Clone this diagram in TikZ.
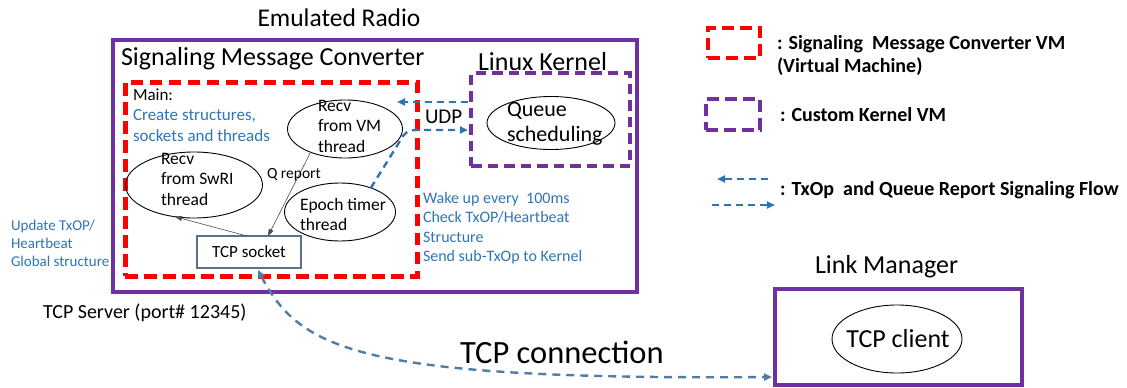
\documentclass[tikz,border=0pt]{standalone}
\usepackage{fontspec}
\setmainfont{Carlito}
\usetikzlibrary{arrows.meta,shapes.geometric,calc}
\definecolor{vmpurple}{RGB}{112,48,160}
\definecolor{flowblue}{RGB}{46,117,182}
\definecolor{linkblue}{RGB}{80,125,165}
\definecolor{sockedge}{RGB}{90,115,140}
\newcommand{\fsz}[2]{\fontsize{#1}{#2}\selectfont}

\begin{document}
\begin{tikzpicture}[x=1pt,y=-1pt,
  every node/.style={inner sep=0pt,outer sep=0pt},
  framebox/.style={draw=vmpurple,line width=4.5pt,rectangle},
  smcbox/.style={draw=red,line width=5pt,dash pattern=on 12.5pt off 6.5pt,rectangle},
  kernbox/.style={draw=vmpurple,line width=4.5pt,dash pattern=on 10.5pt off 6pt,rectangle},
  thread/.style={draw,ellipse,line width=0.9pt},
  sockbox/.style={draw=sockedge,line width=1.2pt,rectangle,font=\fsz{17}{20}},
  head/.style={font=\fsz{26}{30},anchor=base west},
  lbl/.style={font=\fsz{17.5}{20.5},anchor=base west},
  note/.style={text=flowblue,anchor=base west},
  legend/.style={font=\bfseries\fsz{20}{23},anchor=base west},
  flow/.style={draw=flowblue,line width=2.4pt,dash pattern=on 7pt off 5pt,-{Triangle[length=8pt,width=7pt]}},
  link/.style={draw=linkblue,line width=2.4pt,dash pattern=on 8pt off 6pt,{Triangle[length=8pt,width=7pt]}-{Triangle[length=8pt,width=7pt]}},
  report/.style={draw=black!70,line width=0.6pt,-{Triangle[length=7pt,width=5pt]}},
]
\useasboundingbox (0,0) rectangle (1127,388);

% ---------------- Emulated Radio ----------------
\node[font=\fsz{25.5}{30},anchor=base] (ertitle) at (339,26) {Emulated Radio};
\node[framebox,minimum width=524pt,minimum height=252pt] (er) at (375,166) {};
\node[head] (smctitle) at (121,65) {Signaling Message Converter};
\node[smcbox,minimum width=292pt,minimum height=194pt] (smc) at (271,179) {};
\node[head] (kerntitle) at (478,70) {Linux Kernel};
\node[kernbox,minimum width=159pt,minimum height=93pt] (kern) at (550.5,119.5) {};

% main thread description
\node[lbl,font=\fsz{17}{20}] (main1) at (133,100) {Main:};
\node[lbl,font=\fsz{17}{20},text=flowblue] (main2) at (133,120.5) {Create structures,};
\node[lbl,font=\fsz{17}{20},text=flowblue] (main3) at (133,141) {sockets and threads};

% threads
\node[thread,minimum width=115pt,minimum height=58pt] (vm) at (345,129) {};
\node[lbl] (vm1) at (318,111) {Recv};
\node[lbl] (vm2) at (318,131.5) {from VM};
\node[lbl] (vm3) at (318,152) {thread};

\node[thread,minimum width=137pt,minimum height=66pt] (swri) at (194,185) {};
\node[lbl] (sw1) at (161,164) {Recv};
\node[lbl] (sw2) at (161,184.5) {from SwRI};
\node[lbl] (sw3) at (161,205) {thread};

\node[thread,minimum width=111pt,minimum height=58pt] (ep) at (340,212) {};
\node[lbl] (ep1) at (300,210) {Epoch timer};
\node[lbl] (ep2) at (300,230) {thread};

\node[sockbox,minimum width=104pt,minimum height=32pt] (sock) at (249,252) {TCP socket};

\node[thread,minimum width=128pt,minimum height=53pt] (queue) at (551,123) {};
\node[lbl,font=\fsz{22}{26}] (q1) at (507,116) {Queue};
\node[lbl,font=\fsz{22}{26}] (q2) at (507,141) {scheduling};

% notes
\node[note,font=\fsz{16}{19.5}] (wk1) at (423,203) {Wake up every \ 100ms};
\node[note,font=\fsz{16}{19.5}] (wk2) at (423,222.5) {Check TxOP/Heartbeat};
\node[note,font=\fsz{16}{19.5}] (wk3) at (423,242) {Structure};
\node[note,font=\fsz{16}{19.5}] (wk4) at (423,261.5) {Send sub-TxOp to Kernel};

\node[note,font=\fsz{15}{18}] (up1) at (11,230) {Update TxOP/};
\node[note,font=\fsz{15}{18}] (up2) at (11,248) {Heartbeat};
\node[note,font=\fsz{15}{18}] (up3) at (11,266) {Global structure};

\node[font=\fsz{20}{24},anchor=base west] (server) at (43,318) {TCP Server (port\# 12345)};

% internal connectors
\draw[report] ([xshift=-2pt]sock.north) -- (swri.-121);
\draw[report] (vm.-146) -- ([xshift=19pt]sock.north);
\node[font=\fsz{15.5}{18},anchor=base west] (qrep) at (267,178) {Q report};

% UDP signalling between converter and kernel
\coordinate (udpin) at (397,102);
\coordinate (udpbend) at (416,130);
\draw[flow] ($(kern.west |- udpin)+(-3,0)$) -- (udpin);
\draw[flow] (ep.38) -- (400,141) .. controls (404,133) and (408,130) .. (udpbend) -- ($(kern.west |- udpbend)+(-3,0)$);
\node[font=\fsz{21}{24},anchor=base west] (udp) at (425,123) {UDP};

% ---------------- Link Manager ----------------
\node[head] (lmtitle) at (815,273) {Link Manager};
\node[framebox,minimum width=247pt,minimum height=96pt] (lm) at (898.5,337) {};
\node[thread,minimum width=130pt,minimum height=68pt] (client) at (897,339) {};
\node[font=\fsz{26}{30},anchor=base] (clienttxt) at (898,347) {TCP client};

\draw[link] ([xshift=9pt,yshift=-2pt]sock.south) .. controls (300,350) and (360,380) .. ([shift={(-3pt,8pt)}]lm.south west);
\node[font=\fsz{32.5}{36},anchor=base west] (tcpconn) at (460,363) {TCP connection};

% ---------------- Legend ----------------
\node[smcbox,line width=4pt,dash pattern=on 12pt off 6pt,minimum width=52pt,minimum height=30pt] (lgsmc) at (734,43) {};
\node[legend] (lgt1) at (777,49) {: Signaling \ Message Converter VM};
\node[legend] (lgt2) at (777,72) {(Virtual Machine)};
\node[kernbox,line width=4pt,dash pattern=on 12pt off 6pt,minimum width=54pt,minimum height=31pt] (lgkern) at (733,114.5) {};
\node[legend] (lgt3) at (780,121) {: Custom Kernel VM};
\coordinate (lga1) at (768,179);
\coordinate (lga2) at (717,179);
\coordinate (lgb1) at (712,205);
\coordinate (lgb2) at (775,205);
\draw[flow,line width=2pt] (lga1) -- (lga2);
\draw[flow,line width=2pt] (lgb1) -- (lgb2);
\node[legend] (lgt4) at (780,195) {: TxOp \ and Queue Report Signaling Flow};
\end{tikzpicture}
\end{document}
